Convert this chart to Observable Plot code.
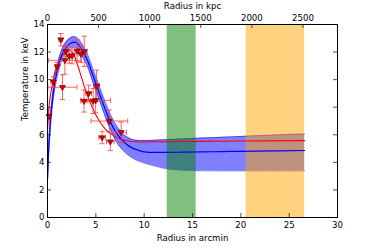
<!DOCTYPE html>
<html>
<head>
<meta charset="utf-8">
<script src="https://cdn.jsdelivr.net/npm/d3@7"></script>
<script src="https://cdn.jsdelivr.net/npm/@observablehq/plot@0.6"></script>
<style>
  html, body { margin: 0; padding: 0; background: #fff; }
  svg { display: block; }
</style>
</head>
<body>
<div id="chart"></div>
<script>
// ---- data ----
const kpcPerArcmin = 94.6;
const xTicks = [0, 5, 10, 15, 20, 25, 30];
const yTicks = [0, 2, 4, 6, 8, 10, 12, 14];
const kpcTicks = [0, 500, 1000, 1500, 2000, 2500];

const bandGreen = [12.38, 15.38];
const bandOrange = [20.55, 26.6];

// blue model: x, median, lower, upper
const blueX  = [0, 0.1, 0.25, 0.5, 0.75, 1.0, 1.5, 2.0, 2.5, 2.8, 3.2, 3.7, 4.2, 4.7, 5.2, 5.7, 6.2, 6.7, 7.2, 7.7, 8.2, 8.7, 9.2, 10, 11, 12, 14, 16, 18, 20, 22, 24, 26.6];
const blueY  = [2.8, 4.6, 6.4, 8.4, 9.7, 10.6, 11.8, 12.4, 12.68, 12.72, 12.55, 12.0, 11.3, 10.3, 9.35, 8.35, 7.45, 6.65, 6.05, 5.65, 5.3, 5.07, 4.92, 4.76, 4.72, 4.72, 4.74, 4.76, 4.78, 4.8, 4.82, 4.84, 4.86];
const blueLo = [2.6, 4.3, 6.0, 8.0, 9.3, 10.2, 11.4, 12.0, 12.3, 12.35, 12.15, 11.55, 10.85, 9.8, 8.85, 7.85, 6.9, 6.1, 5.4, 4.95, 4.6, 4.35, 4.15, 3.95, 3.75, 3.58, 3.43, 3.39, 3.38, 3.38, 3.38, 3.38, 3.38];
const blueHi = [3.0, 4.9, 6.8, 8.8, 10.1, 11.0, 12.2, 12.8, 13.08, 13.12, 12.95, 12.45, 11.75, 10.8, 9.85, 8.9, 8.0, 7.2, 6.6, 6.15, 5.85, 5.68, 5.6, 5.58, 5.6, 5.64, 5.7, 5.76, 5.82, 5.88, 5.94, 6.0, 6.05];

// red model
const redX = [0, 0.1, 0.25, 0.5, 0.75, 1.0, 1.5, 2.0, 2.3, 2.6, 3.0, 3.5, 4.0, 4.5, 5.0, 5.5, 6.0, 6.5, 7.0, 7.5, 8.0, 8.5, 9.0, 10, 12, 15, 20, 26.6];
const redY = [6.3, 7.6, 8.6, 9.65, 10.5, 11.05, 11.7, 12.05, 12.1, 11.95, 11.3, 10.2, 9.1, 8.2, 7.45, 6.85, 6.4, 6.1, 5.85, 5.7, 5.6, 5.53, 5.5, 5.48, 5.5, 5.52, 5.55, 5.58];

// measured points: x, y, x error, y error
const ptX    = [0.15, 0.6, 1.0, 1.38, 1.55, 1.8, 1.9, 2.25, 2.55, 3.05, 3.45, 3.8, 3.78, 4.25, 4.72, 4.98, 5.08, 6.4, 5.65, 6.5, 7.62];
const ptY    = [7.35, 9.85, 10.95, 12.9, 9.45, 11.4, 12.05, 11.7, 11.75, 12.1, 11.85, 12.05, 8.45, 9.0, 8.45, 8.5, 9.55, 7.0, 5.8, 5.5, 6.18];
const ptXErr = [0.1, 0.25, 0.2, 0.2, 1.5, 1.7, 0.25, 0.3, 0.3, 0.3, 0.3, 0.3, 0.3, 0.3, 0.3, 1.55, 0.3, 1.9, 0.35, 0.4, 0.55];
const ptYErr = [0.5, 0.35, 0.3, 0.45, 0.9, 1.0, 0.4, 0.5, 0.6, 0.8, 0.6, 1.1, 0.8, 0.6, 0.9, 0.9, 1.15, 0.8, 0.45, 0.65, 0.75];

// ---- tables ----
const blue = blueX.map((x, i) => ({x, y: blueY[i], lo: blueLo[i], hi: blueHi[i]}));
const red = redX.map((x, i) => ({x, y: redY[i]}));
const pts = ptX.map((x, i) => ({x, y: ptY[i], xe: ptXErr[i], ye: ptYErr[i]}));
const kpcPos = kpcTicks.map(k => k / kpcPerArcmin);

const W = 374, H = 249;
const mL = 47, mR = 37, mT = 24, mB = 32;
const frameW = W - mL - mR, frameH = H - mT - mB;
const tickLen = 4;
const font = "DejaVu Sans";
const fs = 8.6;

const capH = {draw(ctx, size) { const w = 2.6; ctx.moveTo(-w, 0); ctx.lineTo(w, 0); }};
const capV = {draw(ctx, size) { const w = 2.6; ctx.moveTo(0, -w); ctx.lineTo(0, w); }};
const errColor = "#ff3b3b";

const chart = Plot.plot({
  width: W, height: H,
  marginLeft: mL, marginRight: mR, marginTop: mT, marginBottom: mB,
  style: {fontFamily: font, fontSize: fs + "px", background: "white", color: "black"},
  x: {domain: [0, 30]},
  y: {domain: [0, 14]},
  marks: [
    // blue confidence band
    Plot.areaY(blue, {x: "x", y1: "lo", y2: "hi", fill: "#0000ff", fillOpacity: 0.5, curve: "monotone-x"}),
    Plot.lineY(blue, {x: "x", y: "lo", stroke: "#0000ff", strokeOpacity: 0.6, strokeWidth: 0.8, curve: "monotone-x"}),
    Plot.lineY(blue, {x: "x", y: "hi", stroke: "#0000ff", strokeOpacity: 0.6, strokeWidth: 0.8, curve: "monotone-x"}),
    // shaded radial regions
    Plot.rect([bandGreen], {x1: d => d[0], x2: d => d[1], fill: "#008000", fillOpacity: 0.5}),
    Plot.rect([bandOrange], {x1: d => d[0], x2: d => d[1], fill: "#ffa500", fillOpacity: 0.5}),
    // model lines
    Plot.lineY(red, {x: "x", y: "y", stroke: "#ff0000", strokeWidth: 1.1, curve: "monotone-x"}),
    Plot.lineY(blue, {x: "x", y: "y", stroke: "#0000ff", strokeWidth: 1.2, curve: "monotone-x"}),
    // error bars
    Plot.link(pts, {x1: d => d.x, x2: d => d.x, y1: d => d.y - d.ye, y2: d => d.y + d.ye, stroke: errColor, strokeOpacity: 0.8, strokeWidth: 1}),
    Plot.link(pts, {x1: d => d.x - d.xe, x2: d => d.x + d.xe, y1: d => d.y, y2: d => d.y, stroke: errColor, strokeOpacity: 0.8, strokeWidth: 1}),
    Plot.dot(pts, {x: "x", y: d => d.y - d.ye, symbol: capH, stroke: errColor, strokeOpacity: 0.8, fill: "none", strokeWidth: 1}),
    Plot.dot(pts, {x: "x", y: d => d.y + d.ye, symbol: capH, stroke: errColor, strokeOpacity: 0.8, fill: "none", strokeWidth: 1}),
    Plot.dot(pts, {x: d => d.x - d.xe, y: "y", symbol: capV, stroke: errColor, strokeOpacity: 0.8, fill: "none", strokeWidth: 1}),
    Plot.dot(pts, {x: d => d.x + d.xe, y: "y", symbol: capV, stroke: errColor, strokeOpacity: 0.8, fill: "none", strokeWidth: 1}),
    // markers
    Plot.dot(pts, {x: "x", y: "y", symbol: "triangle", rotate: 180, r: 2.2, fill: "#e00000", stroke: "#400000", strokeWidth: 0.6}),
    // inward ticks
    Plot.tickX(xTicks, {x: d => d, insetTop: frameH - tickLen, stroke: "#222", strokeWidth: 0.8}),
    Plot.tickX(kpcPos, {x: d => d, insetBottom: frameH - tickLen, stroke: "#222", strokeWidth: 0.8}),
    Plot.tickY(yTicks, {y: d => d, insetRight: frameW - tickLen, stroke: "#222", strokeWidth: 0.8}),
    Plot.tickY(yTicks, {y: d => d, insetLeft: frameW - tickLen, stroke: "#222", strokeWidth: 0.8}),
    // axes
    Plot.axisX({anchor: "bottom", ticks: xTicks, tickSize: 0, tickPadding: 4, label: null, fontSize: fs}),
    Plot.axisX({anchor: "top", ticks: kpcPos, tickFormat: (d, i) => String(kpcTicks[i]), tickSize: 0, tickPadding: 4, label: null, fontSize: fs}),
    Plot.axisY({anchor: "left", ticks: yTicks, tickSize: 0, tickPadding: 3, label: null, fontSize: fs}),
    Plot.frame({stroke: "black", strokeWidth: 1}),
    // axis titles
    Plot.text(["Radius in kpc"], {frameAnchor: "top", dy: -18.3, lineAnchor: "middle", text: d => d, fontSize: fs}),
    Plot.text(["Radius in arcmin"], {frameAnchor: "bottom", dy: 20.7, lineAnchor: "middle", text: d => d, fontSize: fs}),
    Plot.text(["Temperature in keV"], {frameAnchor: "left", dx: -22, rotate: -90, lineAnchor: "middle", text: d => d, fontSize: fs})
  ]
});
document.getElementById("chart").appendChild(chart);
</script>
</body>
</html>
